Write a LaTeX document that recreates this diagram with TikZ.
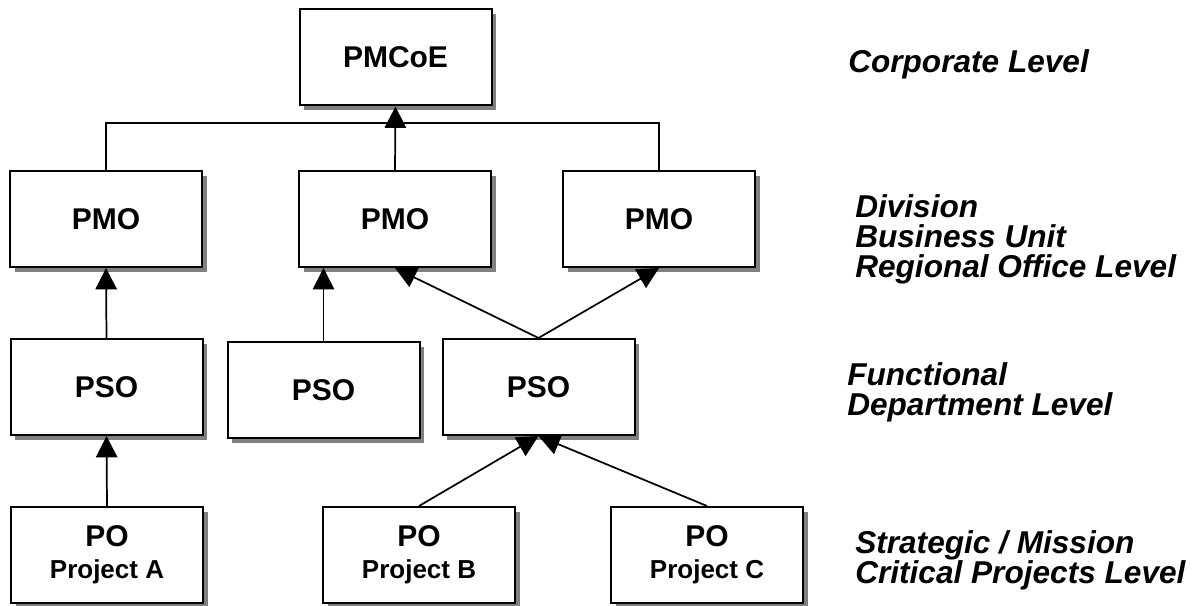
\documentclass[tikz,border=0pt]{standalone}
\usepackage{fontspec}
\setmainfont{Liberation Sans}
\usepackage{tikz}
\usetikzlibrary{arrows.meta,shadows}

\begin{document}
\begin{tikzpicture}[x=0.75pt, y=-0.75pt,
  box/.style={draw=black, fill=white, line width=1.5pt, minimum width=144pt, minimum height=72pt,
    inner sep=0pt, align=center, font=\fontsize{22.5}{24}\selectfont\bfseries,
    drop shadow={shadow xshift=3.6pt, shadow yshift=-3.6pt, fill=shadowGray, opacity=1}},
  lbl/.style={anchor=base west, align=left, inner sep=0pt, font=\fontsize{23.7}{22.5}\selectfont\bfseries\itshape},
  conn/.style={line width=1.3pt},
  arr/.style={conn, -{Triangle[length=16pt, width=16pt]}}]

% Colori
\definecolor{shadowGray}{HTML}{808080}

% Cornice
\useasboundingbox (0,0) rectangle (1197,606);

% Livello corporate
\node[box] (pmcoe) at (395.5,57.5) {PMCoE};

% Livello divisione
\node[box] (pmoL) at (106,219) {PMO};
\node[box] (pmoM) at (395,219) {PMO};
\node[box] (pmoR) at (659,219) {PMO};

% Livello funzionale
\node[box] (psoL) at (106.5,387) {PSO};
\node[box] (psoM) at (323.5,390) {PSO};
\node[box] (psoR) at (538.5,387) {PSO};

% Progetti
\node[box] (poA) at (107,555) {PO\\{\fontsize{19.5}{20}\selectfont Project A}};
\node[box] (poB) at (419,555) {PO\\{\fontsize{19.5}{20}\selectfont Project B}};
\node[box] (poC) at (707,555) {PO\\{\fontsize{19.5}{20}\selectfont Project C}};

% Collegamenti
\coordinate (bar) at (395,123);
\draw[conn] (pmoL.north) |- (bar) -| (pmoR.north);
\draw[arr] (pmoM.north) -- (pmcoe.south);

\draw[arr] (psoL.north) -- (pmoL.south);
\draw[arr] (psoM.north) -- (psoM.north |- pmoM.south);
\draw[arr] (psoR.north) -- (pmoM.south);
\draw[arr] (psoR.north) -- (pmoR.south);

\draw[arr] (poA.north) -- (psoL.south);
\draw[arr] (poB.north) -- (psoR.south);
\draw[arr] (poC.north) -- (psoR.south);

% Etichette dei livelli (ancorate all'ultima riga)
\node[lbl] (lvCorp) at (848,73) {Corporate Level};
\node[lbl] (lvDiv) at (855,277) {Division\\Business Unit\\Regional Office Level};
\node[lbl] (lvFun) at (847,415) {Functional\\Department Level};
\node[lbl] (lvProj) at (855,583) {Strategic / Mission\\Critical Projects Level};

\end{tikzpicture}
\end{document}
